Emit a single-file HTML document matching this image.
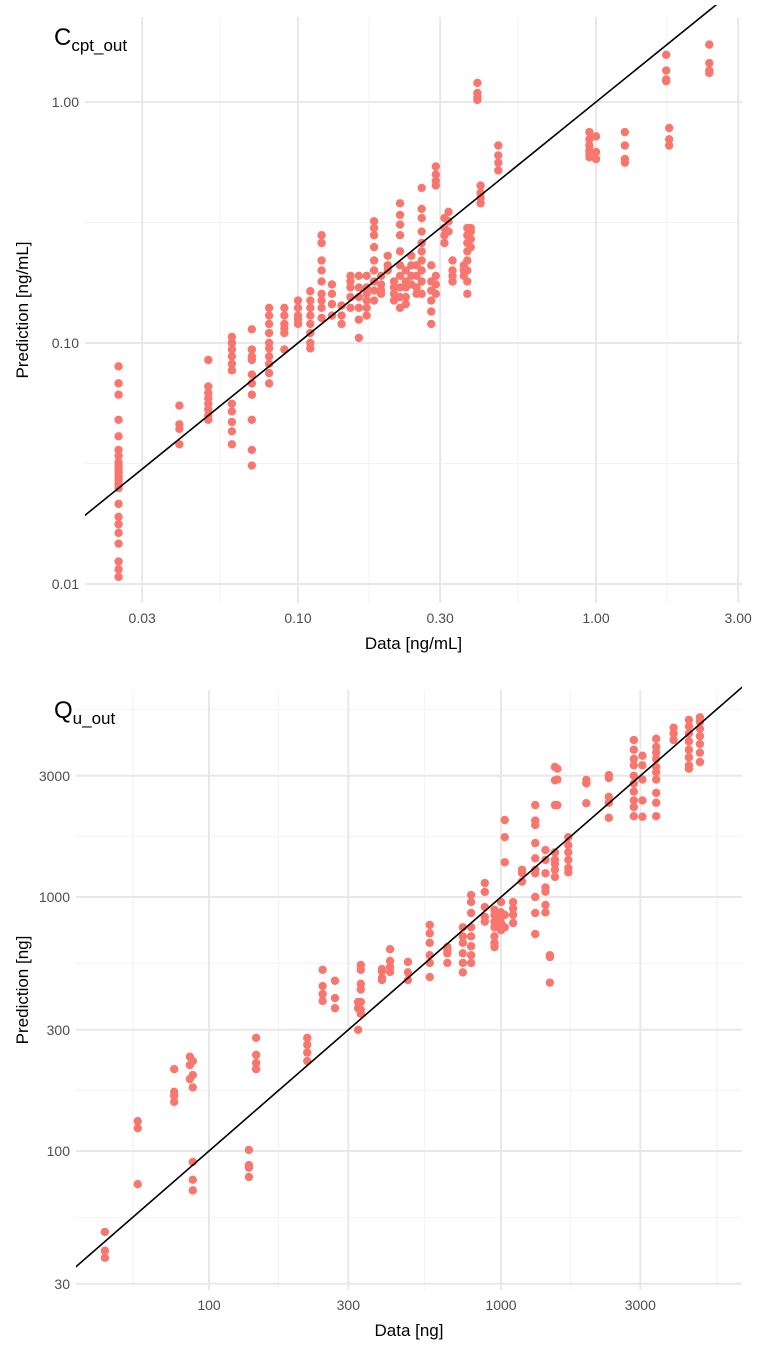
<!DOCTYPE html>
<html><head><meta charset="utf-8"><style>
html,body{margin:0;padding:0;background:#fff;}
svg{display:block;font-family:"Liberation Sans",sans-serif;}
</style></head><body>
<svg id="chart" width="762" height="1353" viewBox="0 0 762 1353" xmlns="http://www.w3.org/2000/svg"></svg>
<script>
// ---------- Panel 1 data: C_cpt_out (ng/mL) ----------
const c1Columns = [0.025,0.04,0.05,0.06,0.07,0.08,0.09,0.10,0.11,0.12,0.13,0.14,0.15,0.16,0.17,0.18,0.19,0.20,0.21,0.22,0.23,0.24,0.25,0.26,0.28,0.29,0.31,0.32,0.33,0.36,0.37,0.38,0.40,0.41,0.47,0.95,1.0,1.25,1.72,1.76,2.4];
const c1Pred = [
 [0.080,0.068,0.061,0.048,0.041,0.036,0.034,0.032,0.031,0.030,0.029,0.028,0.027,0.026,0.025,0.0215,0.019,0.0177,0.0163,0.0147,0.0124,0.0115,0.0107],
 [0.055,0.046,0.044,0.038],
 [0.085,0.066,0.062,0.059,0.056,0.053,0.050,0.048],
 [0.106,0.1,0.094,0.088,0.082,0.077,0.056,0.052,0.047,0.043,0.038],
 [0.114,0.094,0.088,0.085,0.074,0.068,0.061,0.048,0.036,0.031],
 [0.14,0.13,0.12,0.11,0.10,0.095,0.088,0.082,0.075,0.068],
 [0.14,0.13,0.12,0.115,0.11,0.094],
 [0.15,0.14,0.13,0.125,0.12],
 [0.164,0.15,0.14,0.13,0.12,0.11,0.1,0.095],
 [0.28,0.26,0.22,0.20,0.18,0.16,0.15,0.14,0.127],
 [0.175,0.16,0.145,0.13],
 [0.143,0.13,0.12],
 [0.19,0.18,0.17,0.155,0.14],
 [0.19,0.17,0.155,0.14,0.125,0.105],
 [0.19,0.17,0.16,0.15,0.14,0.13],
 [0.32,0.30,0.28,0.25,0.22,0.20,0.18,0.165,0.15],
 [0.19,0.175,0.165,0.16],
 [0.23,0.21,0.2],
 [0.18,0.17,0.16,0.15],
 [0.38,0.34,0.31,0.28,0.24,0.21,0.19,0.17,0.155,0.14],
 [0.2,0.18,0.17,0.155,0.145],
 [0.23,0.21,0.19,0.175],
 [0.21,0.19,0.17,0.16],
 [0.44,0.36,0.33,0.29,0.26,0.24,0.22,0.2,0.18,0.16],
 [0.21,0.18,0.165,0.15,0.135,0.12],
 [0.54,0.5,0.47,0.45,0.19,0.175,0.16],
 [0.33,0.3,0.28,0.26],
 [0.35,0.32,0.29],
 [0.22,0.2,0.19,0.18],
 [0.21,0.2,0.19],
 [0.30,0.28,0.26,0.24,0.22,0.2,0.18,0.16],
 [0.3,0.29,0.27,0.25],
 [1.2,1.09,1.05,1.02],
 [0.45,0.42,0.4,0.38],
 [0.66,0.6,0.56,0.52],
 [0.75,0.7,0.66,0.63,0.61,0.59],
 [0.72,0.62,0.58],
 [0.75,0.66,0.58,0.56],
 [1.57,1.35,1.24,1.22],
 [0.78,0.70,0.66],
 [1.73,1.45,1.35,1.32]
];
const c1XTicks = [0.03,0.10,0.30,1.00,3.00];
const c1XTickLabels = ["0.03","0.10","0.30","1.00","3.00"];
const c1YTicks = [0.01,0.10,1.00];
const c1YTickLabels = ["0.01","0.10","1.00"];

// ---------- Panel 2 data: Q_u_out (ng) ----------
const q2Columns = [44,57,76,86,88,137,145,217,245,270,324,331,391,417,480,570,655,740,790,880,950,1000,1030,1100,1180,1310,1420,1470,1530,1560,1700,1960,2340,2850,3050,3400,3900,4400,4800];
const q2Pred = [
 [48,40.5,38],
 [131,123,74],
 [210,171,165,156],
 [235,218,192],
 [226,199,178,90.5,77,70],
 [101,88,86,79],
 [279,239,222,210],
 [279,262,244,226],
 [517,446,415,390],
 [468,400,365],
 [386,365,300],
 [540,517,455,432,386,360,347],
 [520,471,510,480],
 [623,560,530,507],
 [555,505,471],
 [590,550,484,776,720,660],
 [635,600,550,618],
 [760,700,660,600,550,505],
 [1018,955,865,760,700,640,590,550],
 [1135,1047,913,835,800],
 [890,850,800,760,700,660,635],
 [955,835,870,790,740],
 [2010,1720,1370,850,760],
 [955,900,850,790],
 [1243,1150,1280,1150],
 [2300,2000,1920,1630,1420,1280,1240,1000,865,715],
 [1530,1400,1240,1090,1050,930,870],
 [590,580,460],
 [3250,2880,2300,1400,1280,1500,1350,1200],
 [3200,2900,2300],
 [1720,1600,1500,1400,1300,1250],
 [2890,2800,2340],
 [3020,2940,2480,2350,2050],
 [4150,3800,3500,3300,3000,2800,2600,2400,2260,2080],
 [2070,2400,2900,3300,3600],
 [4200,3900,3700,3500,3250,3100,2900,2570,2350,2080],
 [4640,4400,4150],
 [4980,4700,4400,4100,3800,3550,3300,3200],
 [5100,4900,4600,4300,4000,3700,3400]
];
const q2XTicks = [100,300,1000,3000];
const q2XTickLabels = ["100","300","1000","3000"];
const q2YTicks = [30,100,300,1000,3000];
const q2YTickLabels = ["30","100","300","1000","3000"];

const NS = "http://www.w3.org/2000/svg";
const svg = document.getElementById("chart");
function mk(tag, attrs, parent){
  const e = document.createElementNS(NS, tag);
  for (const k in attrs) e.setAttribute(k, attrs[k]);
  (parent||svg).appendChild(e);
  return e;
}
const L = Math.log10;

function drawPanel(cfg){
  const g = mk("g", {});
  
  
  const sx = v => cfg.x0 + cfg.xDec*(L(v) - cfg.xRef);
  const sy = v => cfg.y0 - cfg.yDec*(L(v) - cfg.yRef);
  const allX = cfg.xMinorBase, allY = cfg.yMinorBase;
  for (let i=0;i<allX.length-1;i++){
    const x = cfg.x0 + cfg.xDec*((L(allX[i])+L(allX[i+1]))/2 - cfg.xRef);
    if (x < cfg.left || x > cfg.right) continue;
    const ln = mk("line",{x1:x,x2:x,y1:cfg.top,y2:cfg.bottom,stroke:"#f3f3f3","stroke-width":1},g);
    
    
  }
  for (let i=0;i<allY.length-1;i++){
    const y = cfg.y0 - cfg.yDec*((L(allY[i])+L(allY[i+1]))/2 - cfg.yRef);
    if (y < cfg.top || y > cfg.bottom) continue;
    const ln = mk("line",{x1:cfg.left,x2:cfg.right,y1:y,y2:y,stroke:"#f3f3f3","stroke-width":1},g);
    
    
  }
  cfg.xTicks.forEach((t,i)=>{
    const x = sx(t);
    const ln = mk("line",{x1:x,x2:x,y1:cfg.top,y2:cfg.bottom,stroke:"#e8e8e8","stroke-width":2},g);
    
    
    const tx = mk("text",{x:x,y:cfg.bottom+20,"text-anchor":"middle","font-size":14,fill:"#4d4d4d"},g);
    tx.textContent = cfg.xLabels[i];
    
    
  });
  cfg.yTicks.forEach((t,i)=>{
    const y = sy(t);
    const ln = mk("line",{x1:cfg.left,x2:cfg.right,y1:y,y2:y,stroke:"#e8e8e8","stroke-width":2},g);
    
    
    const tx = mk("text",{x:cfg.left-6,y:y+5,"text-anchor":"end","font-size":14,fill:"#4d4d4d"},g);
    tx.textContent = cfg.yLabels[i];
    
    
  });
  const clipId = cfg.name + "-clip";
  const cp = mk("clipPath",{id:clipId},g);
  mk("rect",{x:cfg.left,y:cfg.top-12,width:cfg.right-cfg.left,height:cfg.bottom-cfg.top+12},cp);
  const pg = mk("g",{"clip-path":"url(#"+clipId+")"},g);
  
  
  const n = Math.min(cfg.cols.length, cfg.preds.length);
  for (let i=0;i<n;i++){
    const cx = cfg.cols[i];
    cfg.preds[i].forEach(pv=>{
      const c = mk("circle",{cx:sx(cx),cy:sy(pv),r:4.2,fill:"#f8766d"},pg);
      
      
    });
  }
  const lo = cfg.lineRange[0], hi = cfg.lineRange[1];
  const ln = mk("line",{x1:sx(lo),y1:sy(lo),x2:sx(hi),y2:sy(hi),stroke:"#000","stroke-width":1.6},pg);
  
  
  const xt = mk("text",{x:(cfg.left+cfg.right)/2,y:cfg.bottom+46,"text-anchor":"middle","font-size":17,fill:"#000"},g);
  xt.textContent = cfg.xTitle;
  
  
  const yc = (cfg.top+cfg.bottom)/2;
  const yt = mk("text",{x:28,y:yc,"text-anchor":"middle","font-size":17,fill:"#000",transform:"rotate(-90 28 "+yc+")"},g);
  yt.textContent = cfg.yTitle;
  
  
  const pl = mk("text",{x:54,y:cfg.top+28,"font-size":24,fill:"#000"},g);
  
  
  const t1 = mk("tspan",{},pl); t1.textContent = cfg.labelMain;
  const t2 = mk("tspan",{"font-size":17,dy:6},pl); t2.textContent = cfg.labelSub;
}

drawPanel({
  name:"panel-c-cpt-out", left:85, right:742, top:17, bottom:603,
  x0:298, xRef:-1, xDec:298, y0:343, yRef:-1, yDec:241,
  xMinorBase:[0.01,0.03,0.1,0.3,1,3], yMinorBase:[0.01,0.1,1,10],
  xTicks:c1XTicks, xLabels:c1XTickLabels, yTicks:c1YTicks, yLabels:c1YTickLabels,
  cols:c1Columns, preds:c1Pred, lineRange:[0.005,10],
  xTitle:"Data [ng/mL]", yTitle:"Prediction [ng/mL]", labelMain:"C", labelSub:"cpt_out"
});
drawPanel({
  name:"panel-q-u-out", left:76, right:742, top:690, bottom:1290,
  x0:209, xRef:2, xDec:292, y0:897, yRef:3, yDec:254,
  xMinorBase:[30,100,300,1000,3000,10000], yMinorBase:[30,100,300,1000,3000,10000],
  xTicks:q2XTicks, xLabels:q2XTickLabels, yTicks:q2YTicks, yLabels:q2YTickLabels,
  cols:q2Columns, preds:q2Pred, lineRange:[10,20000],
  xTitle:"Data [ng]", yTitle:"Prediction [ng]", labelMain:"Q", labelSub:"u_out"
});
</script>
</body></html>
